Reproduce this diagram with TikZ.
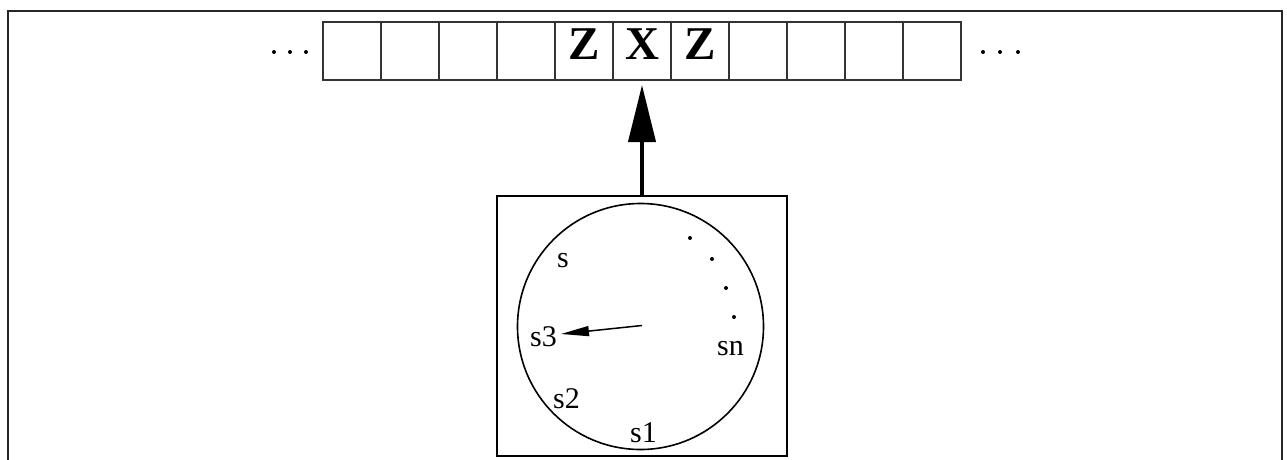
\documentclass[tikz,border=0pt]{standalone}
\usepackage{fontspec}
\setmainfont{Liberation Serif}
\usetikzlibrary{arrows.meta}
\begin{document}
\begin{tikzpicture}[x=1pt,y=-1pt,
  cell/.style={draw=black!80,line width=1.5pt,minimum width=58pt,minimum height=58pt,inner sep=0pt,outer sep=0pt},
  sym/.style={anchor=base,inner sep=0pt,font=\fontsize{47}{52}\selectfont\bfseries},
  lab/.style={anchor=base west,inner sep=0pt,font=\fontsize{30}{36}\selectfont},
  dot/.style={fill=black,draw=none,circle,inner sep=0pt,minimum size=4pt},
  frame/.style={line width=2pt,draw=black!85}]
\useasboundingbox (0,0) rectangle (1287,460);
\draw[frame] (7.5,470) -- (7.5,11.5) -- (1282,11.5) -- (1282,470);
% tape
\foreach \i in {1,...,11}{
  \node[cell] (c\i) at ({323+58*(\i-1)+29},51) {};
}
\node[sym] (z1) at (584,59.5) {Z};
\node[sym] (xx) at (642,59.5) {X};
\node[sym] (z2) at (700,59.5) {Z};
\node[dot] (ld1) at (274,52) {};
\node[dot] (ld2) at (290,52) {};
\node[dot] (ld3) at (306,52) {};
\node[dot] (rd1) at (983,52) {};
\node[dot] (rd2) at (1000,52) {};
\node[dot] (rd3) at (1018,52) {};
% machine
\node[draw,line width=1.3pt,minimum width=290pt,minimum height=260pt,inner sep=0pt,outer sep=0pt] (box) at (642,326) {};
\node[draw,circle,line width=1.6pt,minimum size=246pt,inner sep=0pt] (dial) at (640.5,326.5) {};
\draw[line width=4pt,-{Triangle[length=57pt,width=27pt]},shorten >=5pt] (box.north) -- (c6.south);
\coordinate (hand) at (561,334);
\draw[line width=1.5pt,-{Triangle[length=28pt,width=10pt]}] (642,325.5) coordinate (hub) -- (hand);
\node[lab] (ls) at (557,267) {s};
\node[lab] (ls3) at (530,346) {s3};
\node[lab] (lsn) at (717,355) {sn};
\node[lab] (ls2) at (553,408) {s2};
\node[lab] (ls1) at (630,442) {s1};
\node[dot] (d1) at (690,238) {};
\node[dot] (d2) at (712,259) {};
\node[dot] (d3) at (726,288) {};
\node[dot] (d4) at (734,317) {};
\end{tikzpicture}
\end{document}
